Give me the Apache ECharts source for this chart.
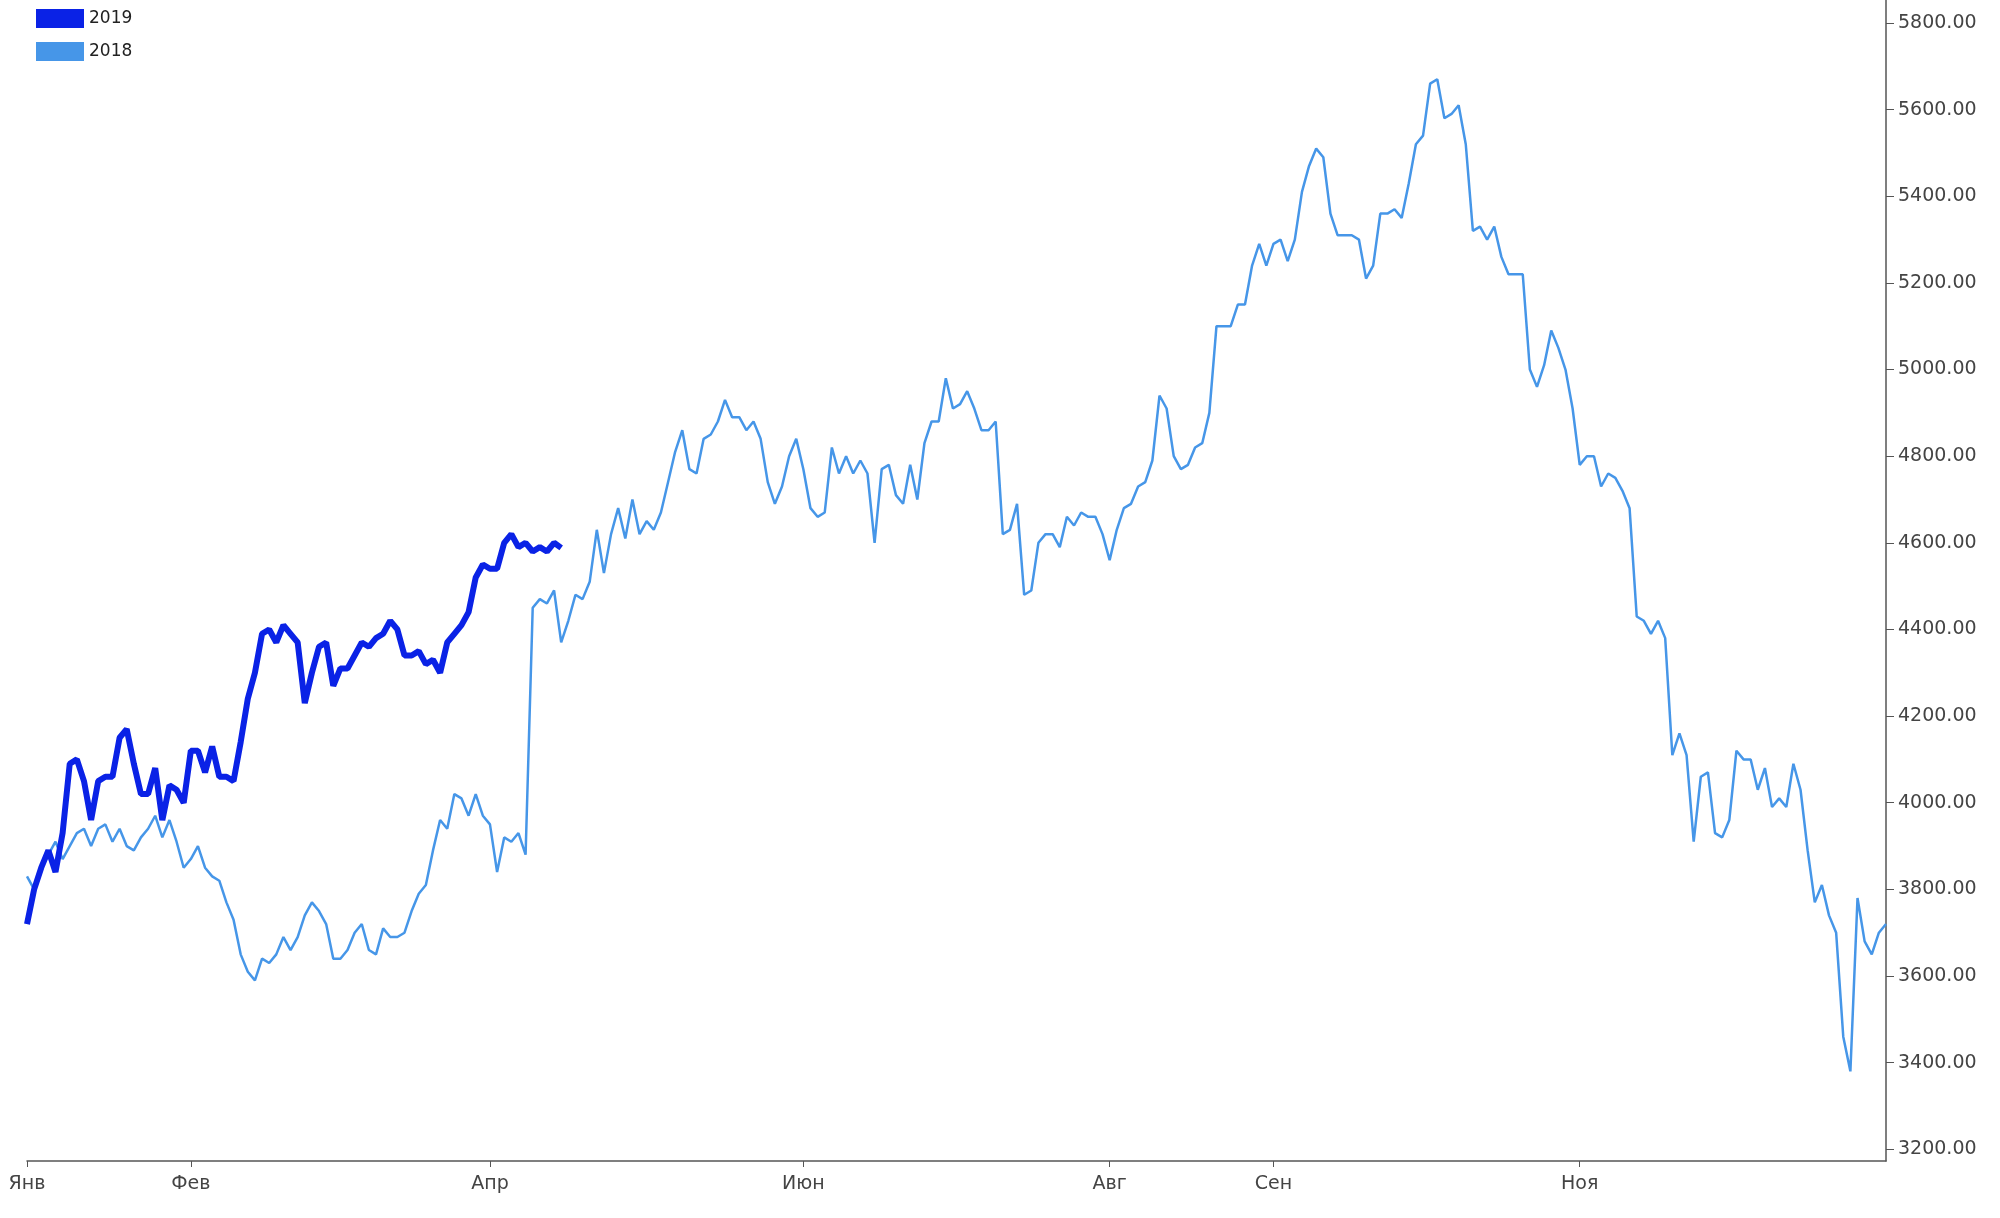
<!DOCTYPE html>
<html>
<head>
<meta charset="utf-8">
<script src="https://cdn.jsdelivr.net/npm/echarts@6/dist/echarts.min.js"></script>
<style>html,body{margin:0;padding:0;background:#fff}#chart{width:2000px;height:1218px}</style>
</head>
<body>
<div id="chart"></div>
<script>
var data2018 = [3830,3800,3850,3880,3910,3870,3900,3930,3940,3900,3940,3950,3910,3940,3900,3890,3920,3940,3970,3920,3960,
3910,3850,3870,3900,3850,3830,3820,3770,3730,3650,3610,3590,3640,3630,3650,3690,3660,3690,3740,3770,3750,3720,3640,3640,3660,3700,3720,3660,3650,3710,3690,3690,3700,3750,3790,3810,3890,3960,3940,4020,4010,3970,4020,3970,3950,3840,3920,3910,3930,3880,
4450,4470,4460,4490,4370,4420,4480,4470,4510,4630,4530,4620,4680,4610,4700,4620,4650,4630,4670,4740,4810,4860,4770,4760,4840,4850,4880,4930,4890,4890,4860,4880,4840,4740,4690,4730,4800,4840,4770,4680,4660,4670,4820,4760,4800,4760,4790,4760,4600,4770,4780,4710,4690,4780,4700,4830,4880,4880,4980,4910,4920,4950,4910,4860,4860,4880,
4620,4630,4690,4480,4490,4600,4620,4620,4590,4660,4640,4670,4660,4660,4620,4560,4630,4680,4690,4730,4740,4790,4940,4910,4800,4770,4780,4820,4830,4900,5100,5100,5100,5150,5150,5240,5290,5240,5290,5300,5250,5300,5410,5470,5510,5490,5360,5310,5310,5310,5300,5210,5240,5360,5360,5370,5350,5430,5520,5540,5660,5670,5580,5590,5610,5520,5320,5330,5300,5330,5260,5220,5220,5220,
5000,4960,5010,5090,5050,5000,4910,4780,4800,4800,4730,4760,4750,4720,4680,4430,4420,4390,4420,4380,4110,4160,4110,3910,4060,4070,3930,3920,3960,4120,4100,4100,4030,4080,3990,4010,3990,4090,4030,3890,3770,3810,3740,3700,3460,3380,3780,3680,3650,3700,3720];
var data2019 = [3720,3800,3850,3890,3840,3930,4090,4100,4050,3960,4050,4060,4060,4150,4170,4090,4020,4020,4080,3960,4040,4030,4000,4120,4120,4070,4130,4060,4060,4050,4140,4240,4300,4390,4400,4370,4410,4390,4370,4230,4300,4360,4370,4270,4310,4310,4340,4370,4360,4380,4390,4420,4400,4340,4340,4350,4320,4330,4300,4370,4390,4410,4440,4520,4550,4540,4540,4600,4620,4590,4600,4580,4590,4580,4600,4588.3];
var lastValue = 4588.30;
var monthNames = ['Янв','Фев','Апр','Июн','Авг','Сен','Ноя'];
var monthFrac = [0, 0.0894, 0.2490, 0.4182, 0.5832, 0.6712, 0.8356];
var yTicks = [3200,3400,3600,3800,4000,4200,4400,4600,4800,5000,5200,5400,5600,5800];

var n = data2018.length;
var monthIdx = monthFrac.map(function (f) { return Math.round(f * (n - 1)); });
var categories = data2018.map(function (v, i) { return String(i); });
function isMonth(i) { return monthIdx.indexOf(i) >= 0; }

var chart = echarts.init(document.getElementById('chart'));
chart.setOption({
    animation: false,
    textStyle: {fontFamily: 'DejaVu Sans'},
    legend: {
        orient: 'vertical', left: 31, top: 4, itemGap: 14,
        itemWidth: 48, itemHeight: 19, icon: 'rect',
        textStyle: {fontSize: 17, color: '#222'},
        data: ['2019', '2018']
    },
    grid: {left: 27, right: 114, top: 0, bottom: 57},
    xAxis: {
        type: 'category', boundaryGap: false, data: categories,
        axisLine: {lineStyle: {color: '#555', width: 1.5}},
        axisTick: {interval: function (i) { return isMonth(i); }, length: 6, lineStyle: {color: '#555'}},
        axisLabel: {
            interval: function (i) { return isMonth(i); },
            formatter: function (v, i) { return monthNames[monthIdx.indexOf(i)] || ''; },
            fontSize: 19, color: '#444', margin: 14
        },
        splitLine: {show: false}
    },
    yAxis: {
        type: 'value', position: 'right', min: 3173, max: 5853,
        axisLine: {show: true, lineStyle: {color: '#555', width: 1.5}},
        axisTick: {show: true, customValues: yTicks, length: 8, lineStyle: {color: '#555'}},
        axisLabel: {customValues: yTicks, formatter: function (v) { return v.toFixed(2); }, fontSize: 19, color: '#444', margin: 12},
        splitLine: {show: false}
    },
    series: [
        {
            name: '2018', type: 'line', data: data2018, symbol: 'none',
            itemStyle: {color: '#4696e8'}, lineStyle: {color: '#4696e8', width: 2.5}
        },
        {
            name: '2019', type: 'line', data: data2019, symbol: 'none', z: 3,
            itemStyle: {color: '#0a22e6'}, lineStyle: {color: '#0a22e6', width: 6},
            markLine: {
                silent: true, symbol: 'none',
                lineStyle: {opacity: 0},
                label: {
                    position: 'end', formatter: lastValue.toFixed(2),
                    backgroundColor: '#4696e8', color: '#fff', fontSize: 19,
                    padding: [6, 12, 5, 14], distance: 2
                },
                data: [{yAxis: lastValue}]
            }
        }
    ]
});
</script>
</body>
</html>
